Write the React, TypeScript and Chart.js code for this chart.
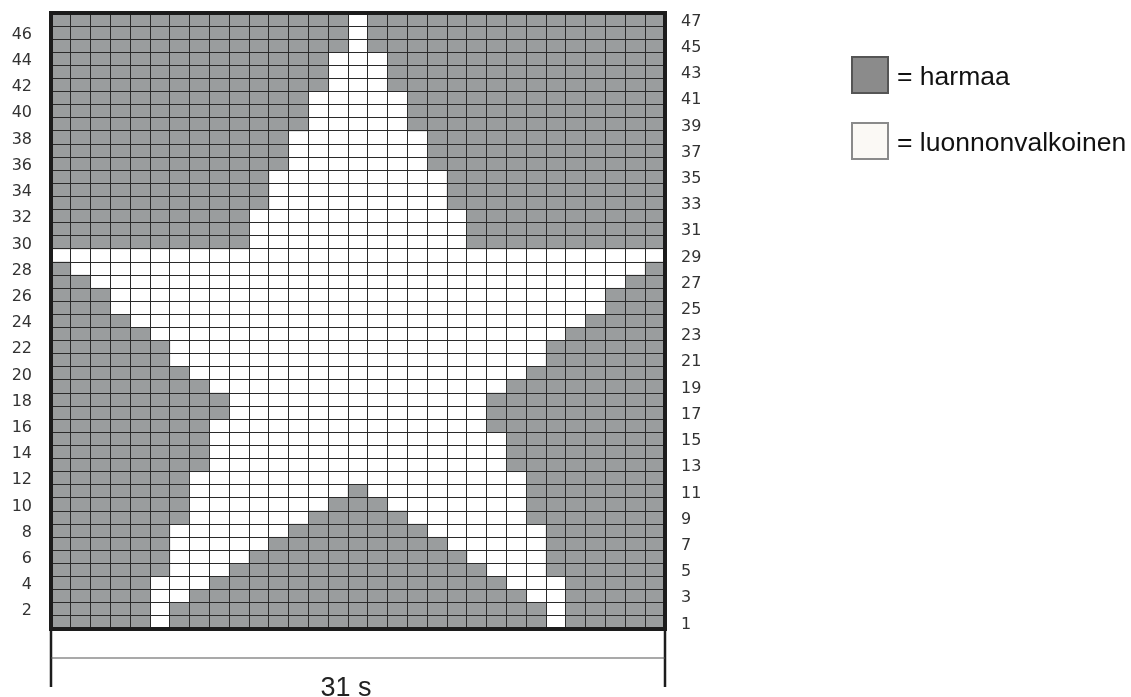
import React, { useEffect, useRef } from 'react';
import { Chart, registerables } from 'chart.js';

Chart.register(...registerables);

// Column (stitch) categories 1..31
const columns = ['1','2','3','4','5','6','7','8','9','10','11','12','13','14','15','16','17','18','19','20','21','22','23','24','25','26','27','28','29','30','31'];

// Row numbers, bottom (1) to top (47)
const rowNumbers = [1,2,3,4,5,6,7,8,9,10,11,12,13,14,15,16,17,18,19,20,21,22,23,24,25,26,27,28,29,30,31,32,33,34,35,36,37,38,39,40,41,42,43,44,45,46,47];

// White (luonnonvalkoinen) stitch runs per row [fromCol, toCol]; all other stitches are grey (harmaa)
const whiteRuns: number[][][] = [
  [[6,6],[26,26]],   // 1
  [[6,6],[26,26]],   // 2
  [[6,7],[25,26]],   // 3
  [[6,8],[24,26]],   // 4
  [[7,9],[23,25]],   // 5
  [[7,10],[22,25]],  // 6
  [[7,11],[21,25]],  // 7
  [[7,12],[20,25]],  // 8
  [[8,13],[19,24]],  // 9
  [[8,14],[18,24]],  // 10
  [[8,15],[17,24]],  // 11
  [[8,24]],          // 12
  [[9,23]],          // 13
  [[9,23]],          // 14
  [[9,23]],          // 15
  [[9,22]],          // 16
  [[10,22]],         // 17
  [[10,22]],         // 18
  [[9,23]],          // 19
  [[8,24]],          // 20
  [[7,25]],          // 21
  [[7,25]],          // 22
  [[6,26]],          // 23
  [[5,27]],          // 24
  [[4,28]],          // 25
  [[4,28]],          // 26
  [[3,29]],          // 27
  [[2,30]],          // 28
  [[1,31]],          // 29
  [[11,21]],         // 30
  [[11,21]],         // 31
  [[11,21]],         // 32
  [[12,20]],         // 33
  [[12,20]],         // 34
  [[12,20]],         // 35
  [[13,19]],         // 36
  [[13,19]],         // 37
  [[13,19]],         // 38
  [[14,18]],         // 39
  [[14,18]],         // 40
  [[14,18]],         // 41
  [[15,17]],         // 42
  [[15,17]],         // 43
  [[15,17]],         // 44
  [[16,16]],         // 45
  [[16,16]],         // 46
  [[16,16]],         // 47
];

// Tick labels
const leftRowLabels = [2,4,6,8,10,12,14,16,18,20,22,24,26,28,30,32,34,36,38,40,42,44,46];
const rightRowLabels = [1,3,5,7,9,11,13,15,17,19,21,23,25,27,29,31,33,35,37,39,41,43,45,47];

const legendItems = ['= harmaa', '= luonnonvalkoinen'];
const widthLabel = '31 s';

const GRAY = '#9a9d9e';
const WHITE = '#ffffff';
const LINE = '#2a2a2a';

export default function App() {
  const ref = useRef<HTMLCanvasElement>(null);

  useEffect(() => {
    document.body.style.margin = '0';
    const gray: any[] = [];
    const white: any[] = [];
    rowNumbers.forEach((r, ri) => {
      columns.forEach((c, ci) => {
        const col = ci + 1;
        const isWhite = whiteRuns[ri].some(([a, b]) => col >= a && col <= b);
        (isWhite ? white : gray).push({ x: c, y: [r - 1, r] });
      });
    });

    const overlay = {
      id: 'overlay',
      afterDraw(chart: any) {
        const { ctx } = chart;
        const { left, right, top, bottom } = chart.chartArea;
        ctx.save();
        // thick frame
        ctx.strokeStyle = '#1c1c1c';
        ctx.lineWidth = 4;
        ctx.strokeRect(left, top, right - left, bottom - top);
        // width dimension
        ctx.lineWidth = 2.5;
        ctx.beginPath();
        ctx.moveTo(left, bottom + 2);
        ctx.lineTo(left, 687);
        ctx.moveTo(right, bottom + 2);
        ctx.lineTo(right, 687);
        ctx.stroke();
        ctx.strokeStyle = '#555';
        ctx.lineWidth = 1.2;
        ctx.beginPath();
        ctx.moveTo(left, 658);
        ctx.lineTo(right, 658);
        ctx.stroke();
        ctx.fillStyle = '#222';
        ctx.font = '27px "Liberation Sans", Arial, sans-serif';
        ctx.textAlign = 'center';
        ctx.textBaseline = 'alphabetic';
        ctx.fillText(widthLabel, (left + right) / 2 - 12, 696);
        // legend
        const fills = ['#8b8b8b', '#fbf9f5'];
        const strokes = ['#555555', '#8a8a8a'];
        const ys = [57, 123];
        legendItems.forEach((t, i) => {
          ctx.fillStyle = fills[i];
          ctx.fillRect(852, ys[i], 36, 36);
          ctx.strokeStyle = strokes[i];
          ctx.lineWidth = 2;
          ctx.strokeRect(852, ys[i], 36, 36);
          ctx.fillStyle = '#111';
          ctx.font = '26.5px "Liberation Sans", Arial, sans-serif';
          ctx.textAlign = 'left';
          ctx.fillText(t, 897, ys[i] + 28);
        });
        ctx.restore();
      },
    };

    const tickFont = { family: '"DejaVu Sans", sans-serif', size: 16 };
    const noPad = (s: any) => { s.paddingTop = 0; s.paddingBottom = 0; s.paddingLeft = 0; s.paddingRight = 0; };

    const chart = new Chart(ref.current as HTMLCanvasElement, {
      type: 'bar',
      data: {
        labels: columns,
        datasets: [
          { label: 'harmaa', data: gray, backgroundColor: GRAY, borderWidth: 0, grouped: false, barPercentage: 1, categoryPercentage: 1, yAxisID: 'yg' } as any,
          { label: 'luonnonvalkoinen', data: white, backgroundColor: WHITE, borderWidth: 0, grouped: false, barPercentage: 1, categoryPercentage: 1, yAxisID: 'yg' } as any,
        ],
      },
      options: {
        animation: false,
        responsive: false,
        maintainAspectRatio: false,
        layout: { padding: { top: 13, bottom: 68, left: 0, right: 0 } },
        plugins: { legend: { display: false }, tooltip: { enabled: false } },
        scales: {
          x: {
            type: 'category',
            offset: true,
            grid: { display: true, offset: true, color: LINE, lineWidth: 1, drawTicks: false, z: 1 },
            border: { display: false },
            ticks: { display: false },
            afterFit(s: any) { s.height = 0; noPad(s); },
          },
          yg: {
            type: 'linear',
            position: 'left',
            min: 0,
            max: 47,
            ticks: { display: false },
            grid: { color: LINE, lineWidth: 1, drawTicks: false, z: 1 },
            border: { display: false },
            afterBuildTicks(s: any) { s.ticks = [0, ...rowNumbers].map((v) => ({ value: v })); },
            afterFit(s: any) { s.width = 0; noPad(s); },
          },
          yl: {
            type: 'linear',
            position: 'left',
            min: 0,
            max: 47,
            grid: { display: false, drawTicks: false },
            border: { display: false },
            ticks: { padding: 19, labelOffset: 2, font: tickFont, color: '#333', autoSkip: false, callback: (v: any) => String(Number(v) + 0.5) },
            afterBuildTicks(s: any) { s.ticks = leftRowLabels.map((r) => ({ value: r - 0.5 })); },
            afterFit(s: any) { s.width = 51; noPad(s); },
          },
          yr: {
            type: 'linear',
            position: 'right',
            min: 0,
            max: 47,
            grid: { display: false, drawTicks: false },
            border: { display: false },
            ticks: { padding: 16, labelOffset: 2, font: tickFont, color: '#333', autoSkip: false, callback: (v: any) => String(Number(v) + 0.5) },
            afterBuildTicks(s: any) { s.ticks = rightRowLabels.map((r) => ({ value: r - 0.5 })); },
            afterFit(s: any) { s.width = 1131 - 665; noPad(s); },
          },
        } as any,
      },
      plugins: [overlay],
    });
    return () => chart.destroy();
  }, []);

  return (
    <div style={{ position: 'fixed', left: 0, top: 0, width: 1131, height: 697, background: '#fff' }}>
      <canvas ref={ref} width={1131} height={697} style={{ display: 'block' }} />
    </div>
  );
}
